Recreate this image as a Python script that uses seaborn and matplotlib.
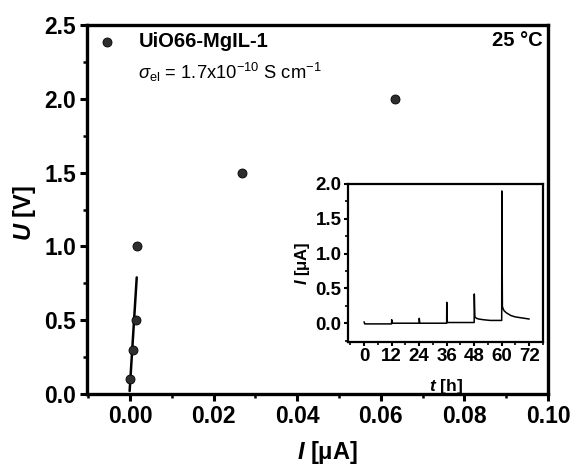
import matplotlib
matplotlib.use("Agg")
import matplotlib.pyplot as plt
import seaborn as sns
import pandas as pd
from matplotlib.ticker import MultipleLocator, FormatStrFormatter

# ---- data ----
current_uA = [-0.0001, 0.0006, 0.0014, 0.0016, 0.0268, 0.0634]
voltage_V = [0.1, 0.3, 0.5, 1.0, 1.5, 2.0]
fit_current_uA = [-0.0001, 0.0016]
fit_voltage_V = [0.02, 0.79]

inset_t_h = [0, 0.3, 1, 6, 12, 12.05, 12.3, 18, 24, 24.05, 24.3, 30, 36, 36.05, 36.3,
             42, 48, 48.05, 48.3, 49, 50, 52, 55, 58, 60, 60.05, 60.3, 60.6,
             61, 62, 63, 64, 66, 68, 70, 72]
inset_I_uA = [0.02, -0.01, -0.01, -0.01, -0.01, 0.05, 0.0, 0.0, 0.0, 0.07, 0.0, 0.0, 0.0, 0.30, 0.01,
              0.01, 0.01, 0.42, 0.09, 0.07, 0.06, 0.05, 0.04, 0.04, 0.04, 1.90, 0.24, 0.21,
              0.18, 0.15, 0.13, 0.11, 0.09, 0.08, 0.07, 0.06]

legend_label = "UiO66-MgIL-1"
sigma_text = r"$\mathsf{σ}_{\mathrm{el}}$ = 1.7x10$^{\mathrm{-10}}$ S cm$^{\mathrm{-1}}$"
temp_text = "25 °C"

sns.set_theme(style="ticks")
plt.rcParams["font.family"] = ["Liberation Sans", "DejaVu Sans"]
plt.rcParams["mathtext.fontset"] = "custom"
plt.rcParams["mathtext.rm"] = "Liberation Sans"
plt.rcParams["mathtext.it"] = "Liberation Sans:italic:bold"
plt.rcParams["mathtext.bf"] = "Liberation Sans:bold"
plt.rcParams["mathtext.sf"] = "Liberation Sans:italic"
plt.rcParams["axes.edgecolor"] = "black"
plt.rcParams["xtick.color"] = "black"
plt.rcParams["ytick.color"] = "black"
plt.rcParams["text.color"] = "black"
plt.rcParams["axes.labelcolor"] = "black"

fig = plt.figure(figsize=(5.74, 4.72), dpi=100)
ax = fig.add_axes([87/574, 1-394/472, (548-87)/574, (394-25)/472])

df_pts = pd.DataFrame({"I": current_uA, "U": voltage_V})
df_fit = pd.DataFrame({"I": fit_current_uA, "U": fit_voltage_V})

sns.lineplot(data=df_fit, x="I", y="U", ax=ax, color="black", linewidth=1.8,
             sort=False, estimator=None)
sns.scatterplot(data=df_pts, x="I", y="U", ax=ax, color="#2e2e2e", edgecolor="black",
                linewidth=0.6, s=42, zorder=5, label=legend_label)

ax.set_xlim(-0.0103, 0.10)
ax.set_ylim(0, 2.5)
ax.xaxis.set_major_locator(MultipleLocator(0.02))
ax.xaxis.set_minor_locator(MultipleLocator(0.01))
ax.yaxis.set_major_locator(MultipleLocator(0.5))
ax.yaxis.set_minor_locator(MultipleLocator(0.25))
ax.xaxis.set_major_formatter(FormatStrFormatter("%.2f"))
ax.yaxis.set_major_formatter(FormatStrFormatter("%.1f"))
for sp in ax.spines.values():
    sp.set_linewidth(2.4)
    sp.set_visible(True)
ax.tick_params(which="major", direction="out", length=5, width=2.2, labelsize=16.5,
               top=False, right=False, pad=3)
ax.tick_params(which="minor", direction="out", length=3, width=1.8, top=False, right=False)
for lab in ax.get_xticklabels() + ax.get_yticklabels():
    lab.set_fontweight("bold")
ax.set_xlabel(r"$I$ [μA]", fontsize=17, fontweight="bold")
ax.xaxis.set_label_coords((328-87)/461, -(453-394)/369)
ax.xaxis.label.set_va("center")
ax.set_ylabel(r"$U$ [V]", fontsize=17, fontweight="bold")
ax.yaxis.set_label_coords(-(87-25)/461, (394-213)/369)
ax.yaxis.label.set_va("center")

leg = ax.legend(loc="upper left", bbox_to_anchor=((102-87)/461, (394-32)/369),
                frameon=False, borderpad=0, borderaxespad=0, handlelength=0.5,
                handletextpad=1.3, prop={"weight": "bold", "size": 14.5})
ax.text((138-87)/461, (394-72)/369, sigma_text, transform=ax.transAxes,
        fontsize=13.2, va="center", ha="left")
ax.text((543-87)/461, (394-40)/369, temp_text, transform=ax.transAxes,
        fontsize=14.5, fontweight="bold", va="center", ha="right")

# ---- inset ----
axi = fig.add_axes([348/574, 1-342/472, (543-348)/574, (342-184)/472])
df_in = pd.DataFrame({"t": inset_t_h, "I": inset_I_uA})
sns.lineplot(data=df_in, x="t", y="I", ax=axi, color="black", linewidth=1.1,
             sort=False, estimator=None)
axi.set_xlim(-7, 78)
axi.set_ylim(-0.27, 2.0)
axi.xaxis.set_major_locator(MultipleLocator(12))
axi.xaxis.set_minor_locator(MultipleLocator(6))
axi.yaxis.set_major_locator(MultipleLocator(0.5))
axi.yaxis.set_minor_locator(MultipleLocator(0.25))
axi.yaxis.set_major_formatter(FormatStrFormatter("%.1f"))
for sp in axi.spines.values():
    sp.set_linewidth(1.6)
    sp.set_visible(True)
axi.tick_params(which="major", direction="out", length=3, width=1.5, labelsize=13.5,
                top=False, right=False, pad=1.5)
axi.tick_params(which="minor", direction="out", length=2, width=1.2, top=False, right=False)
for lab in axi.get_xticklabels() + axi.get_yticklabels():
    lab.set_fontweight("bold")
axi.set_xlabel(r"$t$ [h]", fontsize=12.5, fontweight="bold")
axi.xaxis.set_label_coords(0.5, -(386-342)/158)
axi.xaxis.label.set_va("center")
axi.set_ylabel(r"$I$ [μA]", fontsize=12, fontweight="bold")
axi.yaxis.set_label_coords(-(348-302)/195, 0.5)
axi.yaxis.label.set_va("center")

fig.savefig("out.png", dpi=100)
